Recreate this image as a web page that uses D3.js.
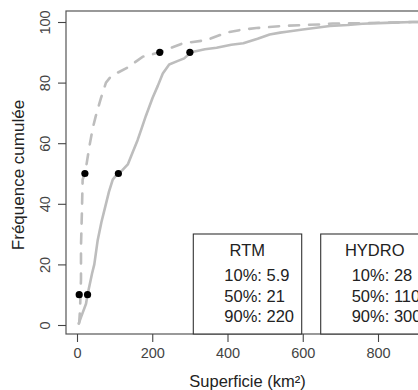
<!DOCTYPE html>
<html><head><meta charset="utf-8">
<script src="https://cdn.jsdelivr.net/npm/d3@7"></script>
<style>
body{margin:0;background:#fff}
svg{display:block;font-family:"Liberation Sans",Arial,sans-serif}
</style>
</head><body>
<svg id="c" width="418" height="390"></svg>
<script>
// ---- data ----
const rtmArea  = [5, 6, 8, 10.6, 10.6, 13, 15, 18, 24, 33, 42, 50, 64, 77, 90, 104, 135, 174, 220, 250, 282, 344, 397, 440, 477, 548, 600, 645, 680, 760, 892, 1000];
const rtmFreq  = [0.5, 1, 5, 15, 26, 37, 48, 49, 52, 59, 65, 69, 75, 80, 82, 83, 85, 88.5, 90, 91.5, 93, 94, 96.5, 97.5, 98, 98.7, 99, 99.2, 99.5, 99.6, 100, 100];
const hydroArea = [5, 6, 12, 24, 28, 40, 46, 55, 65, 73, 85, 95, 108, 120, 135, 148, 161, 172, 183, 201, 215, 228, 245, 265, 285, 303, 340, 371, 410, 442, 480, 512, 540, 557, 600, 672, 720, 759, 820, 892, 1000];
const hydroFreq = [0.5, 1, 3, 7, 10, 17, 20, 28, 34, 38, 44, 48, 50, 51, 53, 57, 61, 65, 69, 75, 79, 83, 86, 87, 88, 90, 91, 91.5, 92.5, 93, 94.5, 95.9, 96.5, 96.8, 97.5, 98.7, 99, 99.4, 99.7, 100, 100];
const percentLevels  = [10, 50, 90];
const rtmQuantiles   = [5.9, 21, 220];
const hydroQuantiles = [28, 110, 300];
const seriesNames = ["RTM", "HYDRO"];
const xTicks = [0, 200, 400, 600, 800];
const yTicks = [0, 20, 40, 60, 80, 100];
const xTitle = "Superficie (km²)";
const yTitle = "Fréquence cumulée";

// ---- scales ----
const x = d3.scaleLinear().domain([0, 800]).range([77, 378]);
const y = d3.scaleLinear().domain([0, 100]).range([325, 22]);
const box = {x0: 66, x1: 470, y0: 11, y1: 334};

const svg = d3.select("#c");
svg.append("defs").append("clipPath").attr("id","clip")
  .append("rect").attr("x",box.x0).attr("y",box.y0)
  .attr("width",box.x1-box.x0).attr("height",box.y1-box.y0);

const g = svg.append("g").attr("clip-path","url(#clip)");
const line = d3.line().x(d=>x(d[0])).y(d=>y(d[1]));
const curveCol = "#bdbdbd";

g.append("path").datum(d3.zip(hydroArea, hydroFreq))
  .attr("d", line).attr("fill","none").attr("stroke",curveCol)
  .attr("stroke-width",2.6).attr("stroke-linejoin","round").attr("stroke-linecap","round");
g.append("path").datum(d3.zip(rtmArea, rtmFreq))
  .attr("d", line).attr("fill","none").attr("stroke",curveCol)
  .attr("stroke-width",2.6).attr("stroke-dasharray","10,10").attr("stroke-linecap","round");

// quantile dots
[rtmQuantiles, hydroQuantiles].forEach(q => {
  g.selectAll(null).data(d3.zip(q, percentLevels)).enter().append("circle")
    .attr("cx", d=>x(d[0])).attr("cy", d=>y(d[1])).attr("r",3.6).attr("fill","#000");
});

// plot box
svg.append("rect").attr("x",box.x0).attr("y",box.y0)
  .attr("width",box.x1-box.x0).attr("height",box.y1-box.y0)
  .attr("fill","none").attr("stroke","#555").attr("stroke-width",1.2);

// axes
const xa = svg.append("g").attr("transform",`translate(0,${box.y1})`)
  .call(d3.axisBottom(x).tickValues(xTicks).tickSize(8).tickPadding(6));
xa.select(".domain").remove();
xa.selectAll("line").attr("stroke","#444").attr("stroke-width",1.1);
xa.selectAll("text").attr("font-size","14.5px").attr("fill","#444")
  .attr("font-family","Liberation Sans, Arial, sans-serif");

const ya = svg.append("g").attr("transform",`translate(${box.x0},0)`)
  .call(d3.axisLeft(y).tickValues(yTicks).tickSize(8));
ya.select(".domain").remove();
ya.selectAll("line").attr("stroke","#444").attr("stroke-width",1.1);
ya.selectAll("text").attr("font-size","14.5px").attr("fill","#444")
  .attr("font-family","Liberation Sans, Arial, sans-serif")
  .attr("x",null).attr("dy",null)
  .attr("text-anchor","middle").attr("dominant-baseline","central")
  .attr("transform","translate(-21,0) rotate(-90)");

// titles
svg.append("text").attr("x",247.5).attr("y",381).attr("text-anchor","middle")
  .attr("dominant-baseline","central").attr("font-size","16.5px").attr("fill","#222").text(xTitle);
svg.append("text").attr("transform","translate(18,175) rotate(-90)").attr("text-anchor","middle")
  .attr("dominant-baseline","central").attr("font-size","17px").attr("fill","#222").text(yTitle);

// legends
const legendLeft = [193.3, 320.7];
const legendQ = [rtmQuantiles, hydroQuantiles];
seriesNames.forEach((name, i) => {
  const lx = legendLeft[i];
  const lg = svg.append("g");
  lg.append("rect").attr("x",lx).attr("y",234).attr("width",108.4).attr("height",box.y1-234)
    .attr("fill","#fff").attr("stroke","#333").attr("stroke-width",1.1);
  lg.append("text").attr("x",lx+54).attr("y",249.5).attr("text-anchor","middle")
    .attr("dominant-baseline","central").attr("font-size","16.5px").attr("fill","#222").text(name);
  percentLevels.forEach((p, j) => {
    lg.append("text").attr("x",lx+31).attr("y",275 + j*20.5)
      .attr("dominant-baseline","central").attr("font-size","16.5px").attr("fill","#222")
      .text(`${p}%: ${legendQ[i][j]}`);
  });
});
</script>
</body></html>
